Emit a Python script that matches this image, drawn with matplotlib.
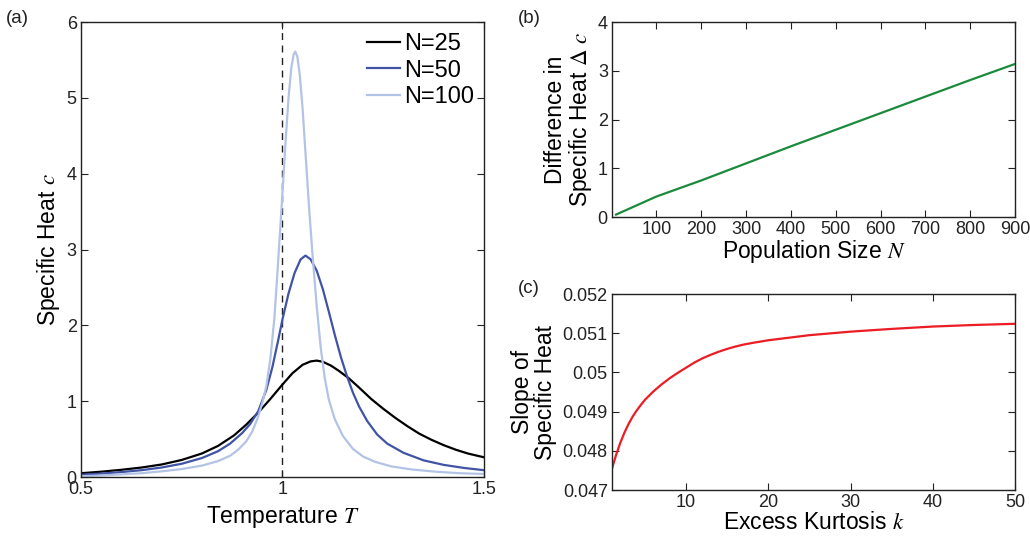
import numpy as np
import matplotlib
matplotlib.use("Agg")
from matplotlib import pyplot as plt

plt.rcParams['font.family'] = ['Liberation Sans', 'DejaVu Sans']
plt.rcParams['mathtext.fontset'] = 'stix'

# (a) specific heat vs temperature
T25 = [0.50, 0.55, 0.60, 0.65, 0.70, 0.75, 0.80, 0.84, 0.88, 0.91, 0.94, 0.97, 1.00, 1.025,
       1.05, 1.07, 1.085, 1.10, 1.12, 1.14, 1.165, 1.19, 1.22, 1.25, 1.28, 1.31, 1.34, 1.37,
       1.40, 1.43, 1.46, 1.50]
c25 = [0.050, 0.070, 0.095, 0.125, 0.165, 0.225, 0.310, 0.410, 0.550, 0.690, 0.850, 1.030,
       1.220, 1.370, 1.480, 1.525, 1.535, 1.520, 1.470, 1.400, 1.300, 1.180, 1.030, 0.900,
       0.780, 0.670, 0.570, 0.490, 0.420, 0.360, 0.310, 0.260]

T50 = [0.50, 0.55, 0.60, 0.65, 0.70, 0.75, 0.80, 0.84, 0.87, 0.90, 0.92, 0.94, 0.96, 0.975,
       0.99, 1.00, 1.015, 1.03, 1.045, 1.057, 1.07, 1.085, 1.10, 1.115, 1.13, 1.145, 1.16,
       1.175, 1.19, 1.21, 1.235, 1.26, 1.30, 1.35, 1.40, 1.45, 1.50]
c50 = [0.030, 0.045, 0.065, 0.090, 0.125, 0.175, 0.250, 0.340, 0.440, 0.580, 0.700, 0.870,
       1.150, 1.450, 1.820, 2.080, 2.420, 2.690, 2.870, 2.920, 2.870, 2.720, 2.480, 2.180,
       1.870, 1.580, 1.330, 1.110, 0.930, 0.740, 0.560, 0.440, 0.320, 0.220, 0.160, 0.120,
       0.090]

T100 = [0.50, 0.55, 0.60, 0.65, 0.70, 0.75, 0.80, 0.84, 0.87, 0.89, 0.91, 0.925, 0.94, 0.95,
        0.96, 0.97, 0.98, 0.99, 1.000, 1.008, 1.015, 1.022, 1.028, 1.032, 1.037, 1.043, 1.050,
        1.058, 1.066, 1.075, 1.085, 1.095, 1.105, 1.115, 1.13, 1.15, 1.175, 1.20, 1.23, 1.27,
        1.32, 1.38, 1.44, 1.50]
c100 = [0.010, 0.020, 0.035, 0.050, 0.075, 0.105, 0.150, 0.210, 0.280, 0.360, 0.470, 0.600,
        0.800, 0.980, 1.200, 1.560, 2.100, 2.900, 3.750, 4.450, 5.000, 5.400, 5.580, 5.610,
        5.540, 5.300, 4.850, 4.200, 3.550, 2.900, 2.250, 1.700, 1.300, 1.020, 0.760, 0.540,
        0.370, 0.270, 0.200, 0.140, 0.100, 0.070, 0.050, 0.040]

# (b) difference in specific heat vs population size
N_pop = [10, 100, 200, 300, 400, 500, 600, 700, 800, 900]
delta_c = [0.05, 0.42, 0.75, 1.10, 1.45, 1.79, 2.13, 2.47, 2.81, 3.14]

# (c) slope of specific heat vs excess kurtosis
kurt = [1, 1.5, 2, 2.5, 3, 3.5, 4, 4.5, 5, 6, 7, 8, 9, 10, 11, 12, 13, 14, 15, 16, 17, 18,
        20, 25, 30, 35, 40, 45, 50]
slope = [0.04755, 0.04790, 0.04820, 0.04846, 0.04868, 0.04887, 0.04903, 0.04917, 0.04930,
         0.04951, 0.04969, 0.04985, 0.04999, 0.05012, 0.05025, 0.05036, 0.05045, 0.05053,
         0.05060, 0.05066, 0.05071, 0.05075, 0.05082, 0.05095, 0.05104, 0.05111, 0.05117,
         0.05121, 0.05124]

fig = plt.figure(figsize=(10.30, 5.37), dpi=100)
ax_a = fig.add_axes([0.0786, 0.1117, 0.3913, 0.8473])
ax_b = fig.add_axes([0.5942, 0.5959, 0.3913, 0.3631])
ax_c = fig.add_axes([0.5942, 0.0875, 0.3913, 0.3650])

for ax in (ax_a, ax_b, ax_c):
    ax.tick_params(direction='in', top=True, right=True, length=5, width=0.8,
                   labelsize=13, colors='#222222', pad=3)
    for s in ax.spines.values():
        s.set_linewidth(1.0)
        s.set_color('#222222')

# panel a
ax_a.axvline(1.0, color='#222222', ls=(0, (5, 4)), lw=1.0)
ax_a.plot(T25, c25, color='black', lw=1.6, label='N=25')
ax_a.plot(T50, c50, color='#4053a4', lw=1.6, label='N=50')
ax_a.plot(T100, c100, color='#b3c3e6', lw=1.6, label='N=100')
ax_a.set_xlim(0.5, 1.5)
ax_a.set_ylim(0, 6)
ax_a.set_xticks([0.5, 1, 1.5])
ax_a.set_xticklabels(['0.5', '1', '1.5'])
ax_a.set_yticks(range(7))
ax_a.set_xlabel('Temperature $T$', fontsize=16.5, labelpad=4)
ax_a.set_ylabel('Specific Heat $c$', fontsize=16.5, labelpad=3)
ax_a.legend(loc='upper right', bbox_to_anchor=(1.010, 1.007), frameon=False, fontsize=17,
            handlelength=1.4, handletextpad=0.15, labelspacing=0.2, borderaxespad=0.2)

# panel b
ax_b.plot(N_pop, delta_c, color='#1b8a3c', lw=1.6)
ax_b.set_xlim(1, 900)
ax_b.set_ylim(0, 4)
ax_b.set_xticks([100, 200, 300, 400, 500, 600, 700, 800, 900])
ax_b.set_yticks([0, 1, 2, 3, 4])
ax_b.set_xlabel('Population Size $N$', fontsize=16.5, labelpad=0)
ax_b.set_ylabel('Difference in\nSpecific Heat $\\Delta\\ c$', fontsize=16.5, labelpad=3,
                linespacing=1.0)

# panel c
ax_c.plot(kurt, slope, color='#ec1c24', lw=1.6)
ax_c.set_xlim(1, 50)
ax_c.set_ylim(0.047, 0.052)
ax_c.set_xticks([10, 20, 30, 40, 50])
ax_c.set_yticks([0.047, 0.048, 0.049, 0.05, 0.051, 0.052])
ax_c.set_yticklabels(['0.047', '0.048', '0.049', '0.05', '0.051', '0.052'])
ax_c.set_xlabel('Excess Kurtosis $k$', fontsize=16.5, labelpad=0)
ax_c.set_ylabel('Slope of\nSpecific Heat', fontsize=16.5, labelpad=4, linespacing=1.0)

fig.text(0.006, 0.958, '(a)', fontsize=13.5, color='#222222')
fig.text(0.503, 0.958, '(b)', fontsize=13.5, color='#222222')
fig.text(0.503, 0.455, '(c)', fontsize=13.5, color='#222222')

fig.savefig('out.png', dpi=100)
